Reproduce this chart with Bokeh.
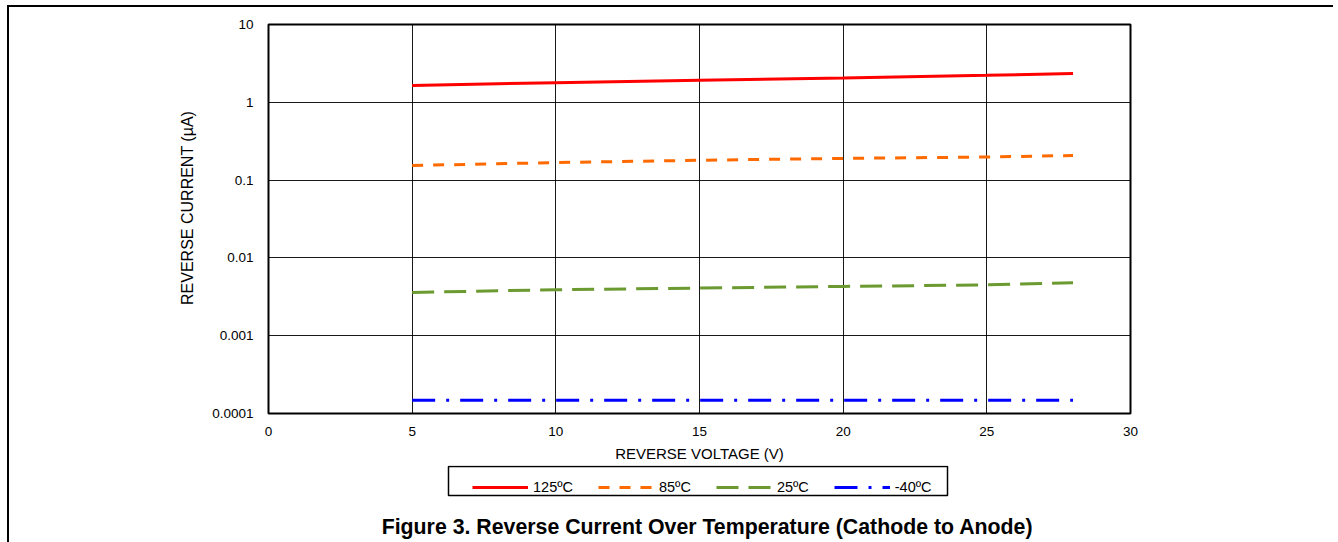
from bokeh.plotting import figure
from bokeh.layouts import column
from bokeh.models import (FixedTicker, CustomJSTickFormatter, Legend, LegendItem,
                          Label, Range1d, BoxAnnotation)
from bokeh.embed import file_html
from bokeh.resources import INLINE

# ---- data ----
voltage = [5, 10, 15, 20, 25, 28]
i_125 = [1.64, 1.79, 1.92, 2.05, 2.22, 2.35]
i_85 = [0.154, 0.168, 0.180, 0.190, 0.198, 0.207]
i_25 = [0.0036, 0.0039, 0.0041, 0.0043, 0.0045, 0.0048]
i_m40 = [0.000148, 0.000148, 0.000148, 0.000148, 0.000148, 0.000148]

series_labels = ["125ºC", "85ºC", "25ºC", "-40ºC"]
x_ticks = [0, 5, 10, 15, 20, 25, 30]
y_ticks = [0.0001, 0.001, 0.01, 0.1, 1, 10]

x_label = "REVERSE VOLTAGE (V)"
y_label = "REVERSE CURRENT (µA)"
title_text = "Figure 3. Reverse Current Over Temperature (Cathode to Anode)"

FONT = "Liberation Sans"
styles = [
    dict(line_color="#ff0000", line_width=3, line_dash="solid"),
    dict(line_color="#ff6a00", line_width=3, line_dash="11 10"),
    dict(line_color="#6a9a30", line_width=3, line_dash="22 10"),
    dict(line_color="#0000ff", line_width=3, line_dash="23 11 3 11"),
]

W = 1324
BL, BR = 259, 203
FRAME_W = W - BL - BR

p = figure(width=W, height=458, y_axis_type="log",
           x_range=Range1d(0, 30), y_range=Range1d(0.0001, 10),
           output_backend="svg", toolbar_location=None,
           min_border_left=BL, min_border_right=BR,
           min_border_top=17, min_border_bottom=52)

p.outline_line_color = "black"
p.outline_line_width = 2
p.outline_line_alpha = 1

for ax in (p.xaxis[0], p.yaxis[0]):
    ax.axis_line_color = None
    ax.major_tick_line_color = None
    ax.minor_tick_line_color = None
    ax.major_label_text_font = FONT
    ax.major_label_text_font_size = "13.5px"
    ax.major_label_text_color = "black"
    ax.axis_label_text_font = FONT
    ax.axis_label_text_font_style = "normal"
    ax.axis_label_text_color = "black"
p.xaxis.axis_label_text_font_size = "15px"
p.yaxis.axis_label_text_font_size = "16px"

p.xaxis.ticker = FixedTicker(ticks=x_ticks)
p.yaxis.ticker = FixedTicker(ticks=y_ticks)
p.yaxis.formatter = CustomJSTickFormatter(code="return tick.toString();")
p.xaxis.major_label_standoff = 7
p.yaxis.major_label_standoff = 9
p.xaxis.axis_label = x_label
# leading no-break spaces lift the rotated label a little, as in the original
p.yaxis.axis_label = "\u00a0" * 5 + y_label
p.xaxis.axis_label_standoff = 6
p.yaxis.axis_label_standoff = 13

p.xgrid.grid_line_color = "black"
p.ygrid.grid_line_color = "black"
p.xgrid.grid_line_alpha = 0.9
p.ygrid.grid_line_alpha = 0.9
p.xgrid.grid_line_width = 1
p.ygrid.grid_line_width = 1

series = [i_125, i_85, i_25, i_m40]
for ys, st in zip(series, styles):
    p.line(voltage, ys, **st)

# ---- bottom strip: legend + caption (frame aligned with the chart frame) ----
H2 = 77
q = figure(width=W, height=H2, x_range=Range1d(0, FRAME_W), y_range=Range1d(0, H2),
           output_backend="svg", toolbar_location=None,
           x_axis_location=None, y_axis_location=None,
           min_border_left=BL, min_border_right=BR,
           min_border_top=0, min_border_bottom=0)
q.outline_line_color = None
q.xgrid.visible = False
q.ygrid.visible = False

# legend frame box (pixel units of the strip)
q.add_layout(BoxAnnotation(left=180, right=679, bottom=47, top=76,
                           fill_color=None, fill_alpha=0,
                           line_color="black", line_width=1.5, line_alpha=1,
                           level="overlay"))

nan = float("nan")
items = []
for lab, st in zip(series_labels, styles):
    r = q.line([nan], [nan], **st)
    items.append(LegendItem(label=lab, renderers=[r]))

legend = Legend(items=items, orientation="horizontal", location=(204, 47),
                glyph_width=56, glyph_height=14, label_standoff=5, spacing=25,
                padding=7, margin=0,
                label_text_font=FONT, label_text_font_size="14.5px",
                label_text_color="black",
                border_line_color=None, background_fill_alpha=0)
q.add_layout(legend, "center")

q.add_layout(Label(x=439, y=16, text=title_text, text_align="center",
                   text_baseline="middle", text_font=FONT,
                   text_font_size="21.3px", text_font_style="bold",
                   text_color="black"))

layout = column(p, q, spacing=0)
layout.styles = {"margin-left": "7px", "margin-top": "5px",
                 "border-top": "2px solid #000", "border-left": "2px solid #000"}

open("out.html", "w").write(file_html(layout, INLINE))
